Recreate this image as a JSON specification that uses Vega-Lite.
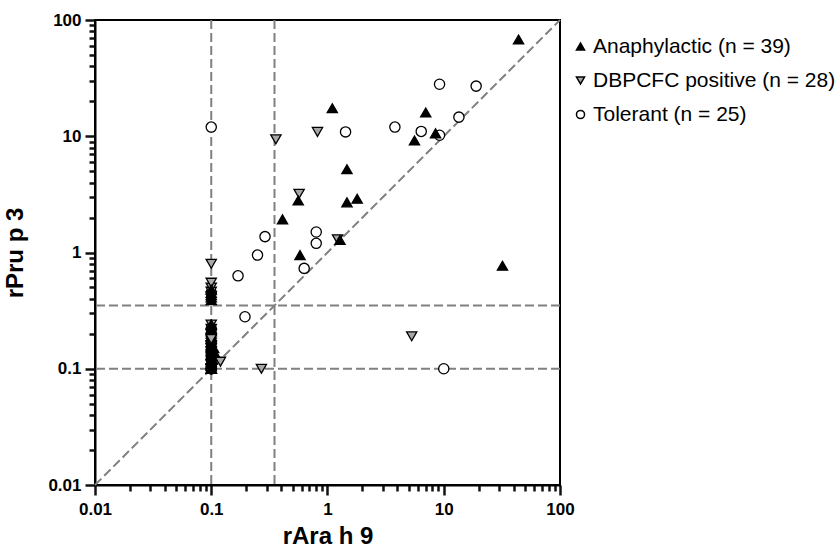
{
  "$schema": "https://vega.github.io/schema/vega-lite/v6.json",
  "width": 465,
  "height": 465,
  "autosize": {"type": "none"},
  "padding": {"left": 95, "top": 20, "right": 280, "bottom": 65},
  "background": "white",
  "config": {
    "view": {"stroke": "black", "strokeWidth": 2},
    "font": "Liberation Sans",
    "axis": {
      "domainColor": "black", "domainWidth": 2, "ticks": true, "tickColor": "#111111", "tickWidth": 2.5, "tickOpacity": 1,
      "labelColor": "black", "labelFont": "Liberation Sans", "labelFontSize": 17, "labelFontWeight": "bold",
      "titleColor": "black", "titleFont": "Liberation Sans", "titleFontSize": 24, "titleFontWeight": "bold",
      "grid": false, "labelOverlap": false, "labelBound": false, "labelFlush": false
    }
  },
  "resolve": {"axis": {"x": "independent", "y": "independent"}},
  "datasets": {
    "pts": [
      {"g": "Tolerant (n = 25)", "x": 0.1, "y": 0.1},
      {"g": "Tolerant (n = 25)", "x": 0.1, "y": 0.1},
      {"g": "Tolerant (n = 25)", "x": 0.1, "y": 0.12},
      {"g": "Tolerant (n = 25)", "x": 0.1, "y": 0.14},
      {"g": "Tolerant (n = 25)", "x": 0.1, "y": 0.17},
      {"g": "Tolerant (n = 25)", "x": 0.1, "y": 0.2},
      {"g": "Tolerant (n = 25)", "x": 0.1, "y": 0.22},
      {"g": "Tolerant (n = 25)", "x": 0.1, "y": 0.45},
      {"g": "Tolerant (n = 25)", "x": 0.1, "y": 0.1},
      {"g": "Tolerant (n = 25)", "x": 9.2, "y": 28},
      {"g": "Tolerant (n = 25)", "x": 19, "y": 27},
      {"g": "Tolerant (n = 25)", "x": 13.5, "y": 14.6},
      {"g": "Tolerant (n = 25)", "x": 3.8, "y": 12},
      {"g": "Tolerant (n = 25)", "x": 6.4, "y": 11},
      {"g": "Tolerant (n = 25)", "x": 9.2, "y": 10.2},
      {"g": "Tolerant (n = 25)", "x": 0.1, "y": 12},
      {"g": "Tolerant (n = 25)", "x": 1.43, "y": 10.9},
      {"g": "Tolerant (n = 25)", "x": 0.29, "y": 1.37},
      {"g": "Tolerant (n = 25)", "x": 0.8, "y": 1.5},
      {"g": "Tolerant (n = 25)", "x": 0.8, "y": 1.2},
      {"g": "Tolerant (n = 25)", "x": 0.25, "y": 0.95},
      {"g": "Tolerant (n = 25)", "x": 0.63, "y": 0.73},
      {"g": "Tolerant (n = 25)", "x": 0.17, "y": 0.63},
      {"g": "Tolerant (n = 25)", "x": 0.195, "y": 0.28},
      {"g": "Tolerant (n = 25)", "x": 10, "y": 0.1},
      {"g": "DBPCFC positive (n = 28)", "x": 0.1, "y": 0.1},
      {"g": "DBPCFC positive (n = 28)", "x": 0.1, "y": 0.1},
      {"g": "DBPCFC positive (n = 28)", "x": 0.1, "y": 0.1},
      {"g": "DBPCFC positive (n = 28)", "x": 0.1, "y": 0.1},
      {"g": "DBPCFC positive (n = 28)", "x": 0.1, "y": 0.1},
      {"g": "DBPCFC positive (n = 28)", "x": 0.1, "y": 0.1},
      {"g": "DBPCFC positive (n = 28)", "x": 0.1, "y": 0.11},
      {"g": "DBPCFC positive (n = 28)", "x": 0.1, "y": 0.12},
      {"g": "DBPCFC positive (n = 28)", "x": 0.1, "y": 0.13},
      {"g": "DBPCFC positive (n = 28)", "x": 0.1, "y": 0.14},
      {"g": "DBPCFC positive (n = 28)", "x": 0.1, "y": 0.15},
      {"g": "DBPCFC positive (n = 28)", "x": 0.1, "y": 0.16},
      {"g": "DBPCFC positive (n = 28)", "x": 0.1, "y": 0.2},
      {"g": "DBPCFC positive (n = 28)", "x": 0.1, "y": 0.22},
      {"g": "DBPCFC positive (n = 28)", "x": 0.1, "y": 0.24},
      {"g": "DBPCFC positive (n = 28)", "x": 0.1, "y": 0.42},
      {"g": "DBPCFC positive (n = 28)", "x": 0.1, "y": 0.46},
      {"g": "DBPCFC positive (n = 28)", "x": 0.1, "y": 0.5},
      {"g": "DBPCFC positive (n = 28)", "x": 0.36, "y": 9.4},
      {"g": "DBPCFC positive (n = 28)", "x": 0.82, "y": 10.9},
      {"g": "DBPCFC positive (n = 28)", "x": 0.57, "y": 3.2},
      {"g": "DBPCFC positive (n = 28)", "x": 1.22, "y": 1.3},
      {"g": "DBPCFC positive (n = 28)", "x": 5.3, "y": 0.19},
      {"g": "DBPCFC positive (n = 28)", "x": 0.27, "y": 0.1},
      {"g": "DBPCFC positive (n = 28)", "x": 0.1, "y": 0.8},
      {"g": "DBPCFC positive (n = 28)", "x": 0.1, "y": 0.55},
      {"g": "Anaphylactic (n = 39)", "x": 44, "y": 68},
      {"g": "Anaphylactic (n = 39)", "x": 7, "y": 16},
      {"g": "Anaphylactic (n = 39)", "x": 8.5, "y": 10.6},
      {"g": "Anaphylactic (n = 39)", "x": 5.6, "y": 9.2},
      {"g": "Anaphylactic (n = 39)", "x": 1.1, "y": 17.4},
      {"g": "Anaphylactic (n = 39)", "x": 1.47, "y": 5.2},
      {"g": "Anaphylactic (n = 39)", "x": 0.56, "y": 2.8},
      {"g": "Anaphylactic (n = 39)", "x": 1.47, "y": 2.7},
      {"g": "Anaphylactic (n = 39)", "x": 1.8, "y": 2.9},
      {"g": "Anaphylactic (n = 39)", "x": 0.41, "y": 1.93},
      {"g": "Anaphylactic (n = 39)", "x": 1.28, "y": 1.28},
      {"g": "Anaphylactic (n = 39)", "x": 0.58, "y": 0.95},
      {"g": "Anaphylactic (n = 39)", "x": 32, "y": 0.77},
      {"g": "Anaphylactic (n = 39)", "x": 0.1, "y": 0.48},
      {"g": "Anaphylactic (n = 39)", "x": 0.1, "y": 0.45},
      {"g": "Anaphylactic (n = 39)", "x": 0.1, "y": 0.43},
      {"g": "Anaphylactic (n = 39)", "x": 0.1, "y": 0.41},
      {"g": "Anaphylactic (n = 39)", "x": 0.1, "y": 0.39},
      {"g": "Anaphylactic (n = 39)", "x": 0.1, "y": 0.24},
      {"g": "Anaphylactic (n = 39)", "x": 0.1, "y": 0.22},
      {"g": "Anaphylactic (n = 39)", "x": 0.1, "y": 0.21},
      {"g": "Anaphylactic (n = 39)", "x": 0.1, "y": 0.2},
      {"g": "Anaphylactic (n = 39)", "x": 0.1, "y": 0.19},
      {"g": "Anaphylactic (n = 39)", "x": 0.1, "y": 0.18},
      {"g": "Anaphylactic (n = 39)", "x": 0.1, "y": 0.17},
      {"g": "Anaphylactic (n = 39)", "x": 0.1, "y": 0.16},
      {"g": "Anaphylactic (n = 39)", "x": 0.1, "y": 0.15},
      {"g": "Anaphylactic (n = 39)", "x": 0.1, "y": 0.14},
      {"g": "Anaphylactic (n = 39)", "x": 0.1, "y": 0.13},
      {"g": "Anaphylactic (n = 39)", "x": 0.1, "y": 0.12},
      {"g": "Anaphylactic (n = 39)", "x": 0.1, "y": 0.115},
      {"g": "Anaphylactic (n = 39)", "x": 0.1, "y": 0.11},
      {"g": "Anaphylactic (n = 39)", "x": 0.1, "y": 0.105},
      {"g": "Anaphylactic (n = 39)", "x": 0.1, "y": 0.1},
      {"g": "Anaphylactic (n = 39)", "x": 0.1, "y": 0.1},
      {"g": "Anaphylactic (n = 39)", "x": 0.1, "y": 0.1},
      {"g": "Anaphylactic (n = 39)", "x": 0.105, "y": 0.15},
      {"g": "Anaphylactic (n = 39)", "x": 0.11, "y": 0.13},
      {"g": "Anaphylactic (n = 39)", "x": 0.102, "y": 0.12},
      {"g": "DBPCFC positive (n = 28)", "x": 0.12, "y": 0.115},
      {"g": "DBPCFC positive (n = 28)", "x": 0.1, "y": 0.18}
    ],
    "vlines": [{"v": 0.1}, {"v": 0.35}],
    "hlines": [{"v": 0.1}, {"v": 0.35}],
    "diag": [{"a": 0.01}, {"a": 100}]
  },
  "layer": [
    {
      "data": {"name": "vlines"},
      "mark": {"type": "rule", "color": "#808080", "strokeWidth": 2, "strokeDash": [9, 4]},
      "encoding": {"x": {"field": "v", "type": "quantitative", "scale": {"type": "log", "domain": [0.01, 100]},
        "axis": {"orient": "bottom", "title": null, "labels": false, "domain": false, "ticks": true, "tickSize": 6, "tickColor": "#111111", "tickWidth": 2.5,
          "values": [0.02,0.03,0.04,0.05,0.06,0.07,0.08,0.09,0.2,0.3,0.4,0.5,0.6,0.7,0.8,0.9,2,3,4,5,6,7,8,9,20,30,40,50,60,70,80,90]}}}
    },
    {
      "data": {"name": "hlines"},
      "mark": {"type": "rule", "color": "#808080", "strokeWidth": 2, "strokeDash": [9, 4]},
      "encoding": {"y": {"field": "v", "type": "quantitative", "scale": {"type": "log", "domain": [0.01, 100]},
        "axis": {"orient": "left", "title": null, "labels": false, "domain": false, "ticks": true, "tickSize": 6, "tickColor": "#111111", "tickWidth": 2.5,
          "values": [0.02,0.03,0.04,0.05,0.06,0.07,0.08,0.09,0.2,0.3,0.4,0.5,0.6,0.7,0.8,0.9,2,3,4,5,6,7,8,9,20,30,40,50,60,70,80,90]}}}
    },
    {
      "data": {"name": "diag"},
      "mark": {"type": "line", "color": "#808080", "strokeWidth": 2, "strokeDash": [9, 4]},
      "encoding": {
        "x": {"field": "a", "type": "quantitative", "axis": null},
        "y": {"field": "a", "type": "quantitative", "axis": null}
      }
    },
    {
      "data": {"name": "pts"},
      "mark": {"type": "point", "filled": true, "stroke": "black", "strokeWidth": 1.3, "opacity": 1, "size": 105},
      "encoding": {
        "x": {
          "field": "x", "type": "quantitative",
          "scale": {"type": "log", "domain": [0.01, 100]},
          "axis": {"orient": "bottom", "title": "rAra h 9", "values": [0.01, 0.1, 1, 10, 100], "format": "~g", "ticks": true, "tickSize": 10, "tickColor": "#111111", "tickWidth": 2.5, "labelPadding": 6, "titlePadding": 7}
        },
        "y": {
          "field": "y", "type": "quantitative",
          "scale": {"type": "log", "domain": [0.01, 100]},
          "axis": {"orient": "left", "title": "rPru p 3", "values": [0.01, 0.1, 1, 10, 100], "format": "~g", "ticks": true, "tickSize": 10, "tickColor": "#111111", "tickWidth": 2.5, "labelPadding": 4, "titlePadding": 20}
        },
        "shape": {
          "field": "g", "type": "nominal",
          "scale": {"domain": ["Anaphylactic (n = 39)", "DBPCFC positive (n = 28)", "Tolerant (n = 25)"], "range": ["triangle-up", "triangle-down", "circle"]},
          "legend": {
            "title": null, "orient": "none", "legendX": 475, "legendY": 16,
            "labelFont": "Liberation Sans", "labelFontSize": 21, "labelColor": "black", "labelLimit": 0,
            "symbolSize": 65, "rowPadding": 12, "labelOffset": 2, "padding": 0
          }
        },
        "fill": {
          "field": "g", "type": "nominal",
          "scale": {"domain": ["Anaphylactic (n = 39)", "DBPCFC positive (n = 28)", "Tolerant (n = 25)"], "range": ["black", "#a8a8a8", "white"]},
          "legend": {
            "title": null, "orient": "none", "legendX": 475, "legendY": 16,
            "labelFont": "Liberation Sans", "labelFontSize": 21, "labelColor": "black", "labelLimit": 0,
            "symbolSize": 65, "rowPadding": 12, "labelOffset": 2, "padding": 0
          }
        }
      }
    }
  ]
}
